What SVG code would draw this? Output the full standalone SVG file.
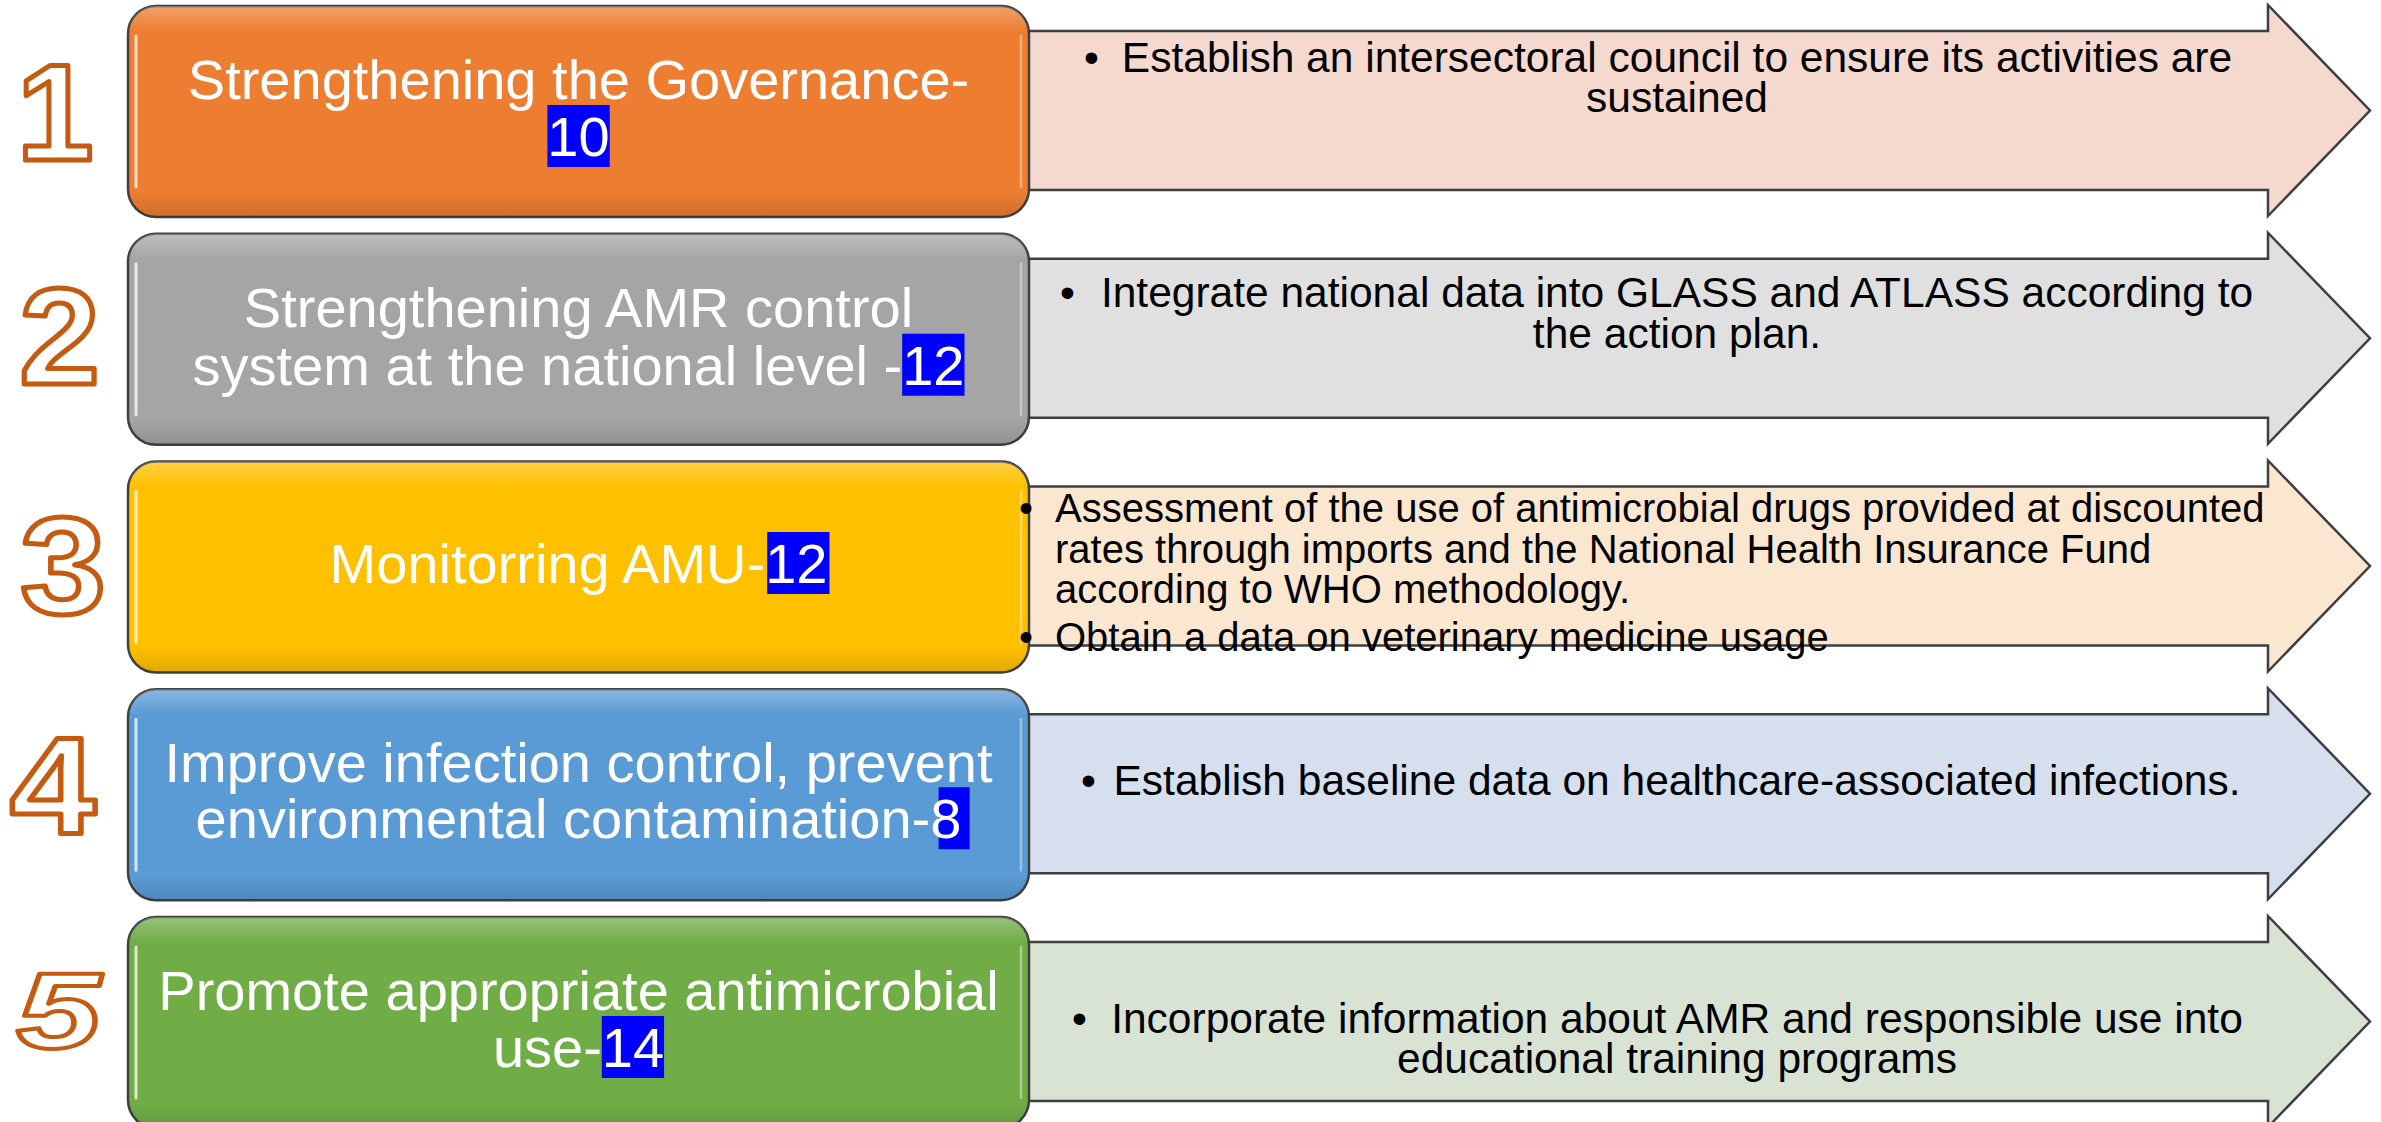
<svg xmlns="http://www.w3.org/2000/svg" width="2381" height="1122" viewBox="0 0 2381 1122">
  <style>
    .box { stroke: #3f3f3f; stroke-width: 2.5; }
    .arrow { stroke: #3f3f3f; stroke-width: 2.5; stroke-linejoin: miter; }
    .title { font-family: "Liberation Sans", Arial, sans-serif; font-size: 56px; fill: #ffffff; text-anchor: middle; }
    .hl { fill: #0000ff; }
    .item { font-family: "Liberation Sans", Arial, sans-serif; font-size: 42.5px; fill: #000000; }
    .small { font-size: 40px; }
    .mid { text-anchor: middle; }
    .num { font-family: "Liberation Sans", Arial, sans-serif; font-weight: bold; font-size: 138px; fill: #ffffff; stroke: #c55a11; stroke-width: 5; stroke-linejoin: round; text-anchor: middle; }
    .shine { fill: none; stroke: #ffffff; stroke-linecap: round; }
  </style>
  <defs>
    <!-- glossy overlay for the rounded title boxes -->
    <linearGradient id="gloss" x1="0" y1="0" x2="0" y2="1">
      <stop offset="0" stop-color="#ffffff" stop-opacity="0.28"/>
      <stop offset="0.12" stop-color="#ffffff" stop-opacity="0"/>
      <stop offset="0.88" stop-color="#000000" stop-opacity="0"/>
      <stop offset="1" stop-color="#000000" stop-opacity="0.12"/>
    </linearGradient>
    <!-- right-pointing block arrow, drawn in row-local coordinates -->
    <path id="arrowShape" d="M1020,25 H2268 V-1 L2370,104.5 L2268,210 V184 H1020 Z"/>
    <rect id="boxShape" x="128" y="0" width="901" height="211" rx="28" ry="28"/>
  </defs>

  <!-- Row 1: governance -->
  <g id="row1" transform="translate(0,6)">
    <use id="arrow1" href="#arrowShape" class="arrow" fill="#f5d8ce"/>
    <g id="node1">
      <use href="#boxShape" class="box" fill="#ec7d31"/>
      <use href="#boxShape" fill="url(#gloss)"/>
      <path class="shine" d="M136,30 V181" stroke-width="3" stroke-opacity="0.75"/>
      <path class="shine" d="M1021,30 V181" stroke-width="2.5" stroke-opacity="0.4"/>
      <rect class="hl" x="547.4" y="99" width="62.3" height="62"/>
      <text class="title" x="578.5" y="93">Strengthening the Governance-</text>
      <text class="title" x="578.5" y="150">10</text>
    </g>
    <g id="actions1">
      <text class="item" x="1084" y="65.5">•</text>
      <text class="item mid" x="1677" y="65.5">Establish an intersectoral council to ensure its activities are</text>
      <text class="item mid" x="1677" y="106">sustained</text>
    </g>
    <text id="num1" class="num" x="55" y="153.5">1</text>
  </g>

  <!-- Row 2: national AMR control system -->
  <g id="row2" transform="translate(0,233.75)">
    <use id="arrow2" href="#arrowShape" class="arrow" fill="#e0e0e0"/>
    <g id="node2">
      <use href="#boxShape" class="box" fill="#a5a5a5"/>
      <use href="#boxShape" fill="url(#gloss)"/>
      <path class="shine" d="M136,30 V181" stroke-width="3" stroke-opacity="0.75"/>
      <path class="shine" d="M1021,30 V181" stroke-width="2.5" stroke-opacity="0.4"/>
      <rect class="hl" x="902.2" y="100" width="62.3" height="62"/>
      <text class="title" x="578.5" y="93">Strengthening AMR control</text>
      <text class="title" x="578.5" y="151">system at the national level -12</text>
    </g>
    <g id="actions2">
      <text class="item" x="1060" y="73.25">•</text>
      <text class="item mid" x="1677" y="73.25">Integrate national data into GLASS and ATLASS according to</text>
      <text class="item mid" x="1677" y="114.25">the action plan.</text>
    </g>
    <text id="num2" class="num" transform="translate(59.5,150.5) scale(1.05,1)">2</text>
  </g>

  <!-- Row 3: monitoring antimicrobial use -->
  <g id="row3" transform="translate(0,461.5)">
    <use id="arrow3" href="#arrowShape" class="arrow" fill="#fbe6cf"/>
    <g id="node3">
      <use href="#boxShape" class="box" fill="#ffc000"/>
      <use href="#boxShape" fill="url(#gloss)"/>
      <path class="shine" d="M136,30 V181" stroke-width="3" stroke-opacity="0.75"/>
      <path class="shine" d="M1021,30 V181" stroke-width="2.5" stroke-opacity="0.4"/>
      <rect class="hl" x="767.2" y="70.5" width="62.3" height="62"/>
      <text class="title" x="578.5" y="121.5">Monitorring AMU-12</text>
    </g>
    <g id="actions3">
      <text class="item small" x="1019" y="60.5">•</text>
      <text class="item small" x="1055" y="60.5">Assessment of the use of antimicrobial drugs provided at discounted</text>
      <text class="item small" x="1055" y="101">rates through imports and the National Health Insurance Fund</text>
      <text class="item small" x="1055" y="141">according to WHO methodology.</text>
      <text class="item small" x="1019" y="189">•</text>
      <text class="item small" x="1055" y="189">Obtain a data on veterinary medicine usage</text>
    </g>
    <text id="num3" class="num" transform="translate(63,151) scale(1.12,1)">3</text>
  </g>

  <!-- Row 4: infection control -->
  <g id="row4" transform="translate(0,689.25)">
    <use id="arrow4" href="#arrowShape" class="arrow" fill="#d6dfee"/>
    <g id="node4">
      <use href="#boxShape" class="box" fill="#5b9bd5"/>
      <use href="#boxShape" fill="url(#gloss)"/>
      <path class="shine" d="M136,30 V181" stroke-width="3" stroke-opacity="0.75"/>
      <path class="shine" d="M1021,30 V181" stroke-width="2.5" stroke-opacity="0.4"/>
      <rect class="hl" x="938.6" y="98" width="31.1" height="62"/>
      <text class="title" x="578.5" y="93">Improve infection control, prevent</text>
      <text class="title" x="578.5" y="149">environmental contamination-8</text>
    </g>
    <g id="actions4">
      <text class="item" x="1081" y="105.75">•</text>
      <text class="item mid" x="1677" y="105.75">Establish baseline data on healthcare-associated infections.</text>
    </g>
    <text id="num4" class="num" transform="translate(53,143.5) scale(1.12,1)">4</text>
  </g>

  <!-- Row 5: appropriate antimicrobial use -->
  <g id="row5" transform="translate(0,917)">
    <use id="arrow5" href="#arrowShape" class="arrow" fill="#d8e3d4"/>
    <g id="node5">
      <use href="#boxShape" class="box" fill="#70ad47"/>
      <use href="#boxShape" fill="url(#gloss)"/>
      <path class="shine" d="M136,30 V181" stroke-width="3" stroke-opacity="0.75"/>
      <path class="shine" d="M1021,30 V181" stroke-width="2.5" stroke-opacity="0.4"/>
      <rect class="hl" x="601.8" y="99" width="62.3" height="62"/>
      <text class="title" x="578.5" y="93">Promote appropriate antimicrobial</text>
      <text class="title" x="578.5" y="150">use-14</text>
    </g>
    <g id="actions5">
      <text class="item" x="1072" y="116">•</text>
      <text class="item mid" x="1677" y="116">Incorporate information about AMR and responsible use into</text>
      <text class="item mid" x="1677" y="156">educational training programs</text>
    </g>
    <text id="num5" class="num" style="font-size:108px;font-style:italic;stroke-width:4" transform="translate(58.5,131) scale(1.4,1)">5</text>
  </g>
</svg>
